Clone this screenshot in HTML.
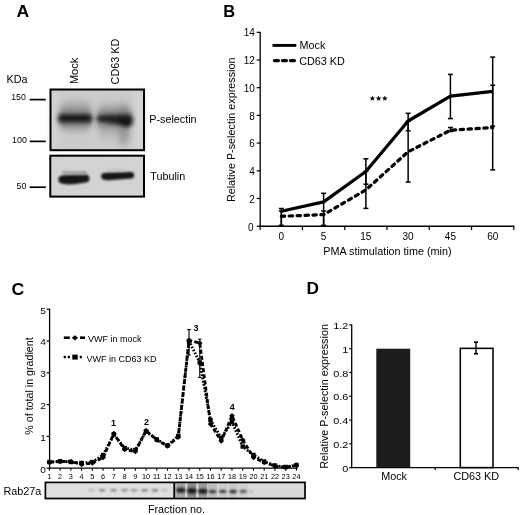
<!DOCTYPE html>
<html><head><meta charset="utf-8"><style>
html,body{margin:0;padding:0;background:#fff;width:520px;height:515px;overflow:hidden}
svg{display:block;filter:blur(0.35px)}
text{font-family:"Liberation Sans", sans-serif;fill:#000}
</style></head><body>
<svg width="520" height="515" viewBox="0 0 520 515">
<defs>
<filter id="bl08" x="-50%" y="-50%" width="200%" height="200%"><feGaussianBlur stdDeviation="0.7"/></filter>
<filter id="bl12" x="-50%" y="-50%" width="200%" height="200%"><feGaussianBlur stdDeviation="1.2"/></filter>
<filter id="bl1" x="-50%" y="-50%" width="200%" height="200%"><feGaussianBlur stdDeviation="1.0"/></filter>
<filter id="bl2" x="-50%" y="-50%" width="200%" height="200%"><feGaussianBlur stdDeviation="2.0"/></filter>
<filter id="bl4" x="-50%" y="-50%" width="200%" height="200%"><feGaussianBlur stdDeviation="3.5"/></filter>
<linearGradient id="g1" x1="0" y1="0" x2="1" y2="0">
<stop offset="0" stop-color="#d8d8d8" stop-opacity="0.6"/>
<stop offset="0.5" stop-color="#c8c8c8" stop-opacity="0.3"/>
<stop offset="1" stop-color="#d5d5d5" stop-opacity="0.5"/>
</linearGradient>
</defs>
<text transform="translate(16.5,16.9) scale(1.07,1)" font-size="16.5" font-weight="bold">A</text>
<text transform="translate(77.70,84.10) rotate(-90)" font-size="11" text-anchor="start" >Mock</text>
<text transform="translate(118.70,84.40) rotate(-90)" font-size="10.8" text-anchor="start" >CD63 KD</text>
<text x="6.50" y="82.80" font-size="10.8" text-anchor="start" font-weight="normal" >KDa</text>
<text transform="translate(11.2,100.3) scale(0.92,1)" font-size="9.5">150</text>
<text transform="translate(12.0,142.8) scale(0.94,1)" font-size="9.5">100</text>
<text transform="translate(16.6,188.8) scale(0.94,1)" font-size="9.5">50</text>
<line x1="29.70" y1="99.60" x2="45.80" y2="99.60" stroke="#000" stroke-width="1.7" />
<line x1="29.70" y1="141.40" x2="45.80" y2="141.40" stroke="#000" stroke-width="1.7" />
<line x1="29.70" y1="187.20" x2="45.80" y2="187.20" stroke="#000" stroke-width="1.7" />
<g>
<rect x="50.5" y="89.5" width="93.5" height="60.7" fill="#cbcbcb"/>
<g filter="url(#bl4)">
 <rect x="52" y="92" width="5" height="56" fill="#d8d8d8"/>
 <rect x="133" y="92" width="10" height="56" fill="#d6d6d6"/>
 <rect x="92" y="92" width="3.5" height="56" fill="#d2d2d2"/>
 <rect x="59" y="102" width="33" height="29" rx="6" fill="#959595" opacity="0.7"/>
 <rect x="97" y="104" width="35" height="27" rx="6" fill="#959595" opacity="0.65"/>
 <ellipse cx="124" cy="134" rx="6" ry="11" fill="#888" opacity="0.75"/>
 <ellipse cx="108" cy="133" rx="10" ry="6" fill="#aaa" opacity="0.6"/>
 <ellipse cx="124" cy="109" rx="6" ry="6" fill="#8a8a8a" opacity="0.5"/>
</g>
<g filter="url(#bl2)">
 <rect x="59" y="108" width="32.5" height="20" rx="5" fill="#777" opacity="0.45"/>
 <rect x="97" y="108.5" width="35" height="20" rx="5" fill="#777" opacity="0.45"/>
 <rect x="58.0" y="113.6" width="34.3" height="9.6" rx="4" fill="#1e1e1e"/>
 <path d="M96.6,118.6 C96.6,115 98.6,114.6 103,114.5 L126.5,113.6 C131.5,113.6 133,116 133,119.5 C133,124.5 130.5,127.8 125.5,127.3 L118,125.2 L103,122.8 C98.6,122.7 96.6,122.2 96.6,118.6 Z" fill="#222"/>
 <path d="M116,121 C120,119 130,119 132,121 C132,125 129,127.5 125,127 Z" fill="#111"/>
</g>
<rect x="50.5" y="89.5" width="93.5" height="60.7" fill="none" stroke="#000" stroke-width="2"/>
</g>
<g>
<rect x="50.3" y="155.7" width="93.7" height="40.9" fill="#d3d3d3"/>
<g filter="url(#bl12)">
 <path d="M58.4,179.6 C58.4,175.9 61,175.2 68,175.1 L86.5,174.8 C90.2,174.8 90.4,181.4 87.2,182.2 L74,184.3 C62,184.9 58.4,183.4 58.4,179.6 Z" fill="#141414"/>
 <rect x="62" y="171.6" width="25" height="1.8" rx="0.9" fill="#777" opacity="0.8"/>
 <path d="M101.1,176.2 C101.1,172.9 104,172.6 112,172.5 L131.5,172.0 C135,172.0 135.2,178.2 131.5,178.6 L112,180.1 C104,180.6 101.1,179.4 101.1,176.2 Z" fill="#181818"/>
 <ellipse cx="116" cy="169.6" rx="11" ry="0.9" fill="#aaa" opacity="0.6"/>
</g>
<rect x="50.3" y="155.7" width="93.7" height="40.9" fill="none" stroke="#000" stroke-width="2"/>
</g>
<text x="149.20" y="122.80" font-size="10.8" text-anchor="start" font-weight="normal" >P-selectin</text>
<text x="150.20" y="179.60" font-size="10.8" text-anchor="start" font-weight="normal" >Tubulin</text>
<text x="223.30" y="16.80" font-size="16.5" text-anchor="start" font-weight="bold" >B</text>
<line x1="260.20" y1="32.00" x2="260.20" y2="226.80" stroke="#000" stroke-width="1.3" />
<line x1="256.70" y1="226.20" x2="260.20" y2="226.20" stroke="#000" stroke-width="1.2" />
<text x="253.60" y="231.10" font-size="10" text-anchor="end" font-weight="normal" >0</text>
<line x1="256.70" y1="198.50" x2="260.20" y2="198.50" stroke="#000" stroke-width="1.2" />
<text x="254.90" y="202.60" font-size="10" text-anchor="end" font-weight="normal" >2</text>
<line x1="256.70" y1="170.80" x2="260.20" y2="170.80" stroke="#000" stroke-width="1.2" />
<text x="254.90" y="174.90" font-size="10" text-anchor="end" font-weight="normal" >4</text>
<line x1="256.70" y1="143.10" x2="260.20" y2="143.10" stroke="#000" stroke-width="1.2" />
<text x="254.90" y="147.20" font-size="10" text-anchor="end" font-weight="normal" >6</text>
<line x1="256.70" y1="115.40" x2="260.20" y2="115.40" stroke="#000" stroke-width="1.2" />
<text x="254.90" y="119.50" font-size="10" text-anchor="end" font-weight="normal" >8</text>
<line x1="256.70" y1="87.70" x2="260.20" y2="87.70" stroke="#000" stroke-width="1.2" />
<text x="254.90" y="91.80" font-size="10" text-anchor="end" font-weight="normal" >10</text>
<line x1="256.70" y1="60.00" x2="260.20" y2="60.00" stroke="#000" stroke-width="1.2" />
<text x="254.90" y="64.10" font-size="10" text-anchor="end" font-weight="normal" >12</text>
<line x1="256.70" y1="32.30" x2="260.20" y2="32.30" stroke="#000" stroke-width="1.2" />
<text x="254.90" y="36.40" font-size="10" text-anchor="end" font-weight="normal" >14</text>
<line x1="259.60" y1="226.20" x2="514.42" y2="226.20" stroke="#000" stroke-width="1.4" />
<line x1="260.20" y1="226.20" x2="260.20" y2="230.00" stroke="#000" stroke-width="1.2" />
<line x1="302.47" y1="226.20" x2="302.47" y2="230.00" stroke="#000" stroke-width="1.2" />
<line x1="344.74" y1="226.20" x2="344.74" y2="230.00" stroke="#000" stroke-width="1.2" />
<line x1="387.01" y1="226.20" x2="387.01" y2="230.00" stroke="#000" stroke-width="1.2" />
<line x1="429.28" y1="226.20" x2="429.28" y2="230.00" stroke="#000" stroke-width="1.2" />
<line x1="471.55" y1="226.20" x2="471.55" y2="230.00" stroke="#000" stroke-width="1.2" />
<line x1="513.82" y1="226.20" x2="513.82" y2="230.00" stroke="#000" stroke-width="1.2" />
<text x="281.33" y="239.90" font-size="10" text-anchor="middle" font-weight="normal" >0</text>
<text x="323.61" y="239.90" font-size="10" text-anchor="middle" font-weight="normal" >5</text>
<text x="365.88" y="239.90" font-size="10" text-anchor="middle" font-weight="normal" >15</text>
<text x="408.14" y="239.90" font-size="10" text-anchor="middle" font-weight="normal" >30</text>
<text x="450.41" y="239.90" font-size="10" text-anchor="middle" font-weight="normal" >45</text>
<text x="492.69" y="239.90" font-size="10" text-anchor="middle" font-weight="normal" >60</text>
<text x="387.40" y="255.00" font-size="10.8" text-anchor="middle" font-weight="normal" >PMA stimulation time (min)</text>
<text transform="translate(235.10,129.80) rotate(-90)" font-size="10.8" text-anchor="middle" >Relative P-selectin expression</text>
<line x1="272.50" y1="45.40" x2="296.30" y2="45.40" stroke="#000" stroke-width="2.9" />
<line x1="274.40" y1="60.60" x2="294.60" y2="60.60" stroke="#000" stroke-width="3.1" stroke-dasharray="4.1 3.9" stroke-linecap="round"/>
<text x="299.60" y="48.60" font-size="10.8" text-anchor="start" font-weight="normal" >Mock</text>
<text x="299.20" y="64.70" font-size="10.8" text-anchor="start" font-weight="normal" >CD63 KD</text>
<line x1="281.33" y1="208.50" x2="281.33" y2="225.50" stroke="#000" stroke-width="1.5" />
<line x1="278.83" y1="208.50" x2="283.83" y2="208.50" stroke="#000" stroke-width="1.5" />
<line x1="278.83" y1="225.50" x2="283.83" y2="225.50" stroke="#000" stroke-width="1.5" />
<line x1="281.33" y1="211.00" x2="281.33" y2="225.50" stroke="#000" stroke-width="1.5" />
<line x1="278.83" y1="211.00" x2="283.83" y2="211.00" stroke="#000" stroke-width="1.5" />
<line x1="278.83" y1="225.50" x2="283.83" y2="225.50" stroke="#000" stroke-width="1.5" />
<line x1="323.61" y1="193.30" x2="323.61" y2="225.50" stroke="#000" stroke-width="1.5" />
<line x1="321.11" y1="193.30" x2="326.11" y2="193.30" stroke="#000" stroke-width="1.5" />
<line x1="321.11" y1="225.50" x2="326.11" y2="225.50" stroke="#000" stroke-width="1.5" />
<line x1="323.61" y1="211.00" x2="323.61" y2="225.50" stroke="#000" stroke-width="1.5" />
<line x1="321.11" y1="211.00" x2="326.11" y2="211.00" stroke="#000" stroke-width="1.5" />
<line x1="321.11" y1="225.50" x2="326.11" y2="225.50" stroke="#000" stroke-width="1.5" />
<line x1="365.88" y1="158.80" x2="365.88" y2="184.20" stroke="#000" stroke-width="1.5" />
<line x1="363.38" y1="158.80" x2="368.38" y2="158.80" stroke="#000" stroke-width="1.5" />
<line x1="363.38" y1="184.20" x2="368.38" y2="184.20" stroke="#000" stroke-width="1.5" />
<line x1="365.88" y1="171.50" x2="365.88" y2="208.40" stroke="#000" stroke-width="1.5" />
<line x1="363.38" y1="171.50" x2="368.38" y2="171.50" stroke="#000" stroke-width="1.5" />
<line x1="363.38" y1="208.40" x2="368.38" y2="208.40" stroke="#000" stroke-width="1.5" />
<line x1="408.14" y1="113.30" x2="408.14" y2="130.80" stroke="#000" stroke-width="1.5" />
<line x1="405.64" y1="113.30" x2="410.64" y2="113.30" stroke="#000" stroke-width="1.5" />
<line x1="405.64" y1="130.80" x2="410.64" y2="130.80" stroke="#000" stroke-width="1.5" />
<line x1="408.14" y1="121.30" x2="408.14" y2="182.10" stroke="#000" stroke-width="1.5" />
<line x1="405.64" y1="121.30" x2="410.64" y2="121.30" stroke="#000" stroke-width="1.5" />
<line x1="405.64" y1="182.10" x2="410.64" y2="182.10" stroke="#000" stroke-width="1.5" />
<line x1="450.41" y1="74.40" x2="450.41" y2="118.60" stroke="#000" stroke-width="1.5" />
<line x1="447.91" y1="74.40" x2="452.91" y2="74.40" stroke="#000" stroke-width="1.5" />
<line x1="447.91" y1="118.60" x2="452.91" y2="118.60" stroke="#000" stroke-width="1.5" />
<line x1="450.41" y1="127.50" x2="450.41" y2="131.50" stroke="#000" stroke-width="1.5" />
<line x1="447.91" y1="127.50" x2="452.91" y2="127.50" stroke="#000" stroke-width="1.5" />
<line x1="447.91" y1="131.50" x2="452.91" y2="131.50" stroke="#000" stroke-width="1.5" />
<line x1="492.69" y1="57.10" x2="492.69" y2="126.20" stroke="#000" stroke-width="1.5" />
<line x1="490.19" y1="57.10" x2="495.19" y2="57.10" stroke="#000" stroke-width="1.5" />
<line x1="490.19" y1="126.20" x2="495.19" y2="126.20" stroke="#000" stroke-width="1.5" />
<line x1="492.69" y1="85.30" x2="492.69" y2="169.90" stroke="#000" stroke-width="1.5" />
<line x1="490.19" y1="85.30" x2="495.19" y2="85.30" stroke="#000" stroke-width="1.5" />
<line x1="490.19" y1="169.90" x2="495.19" y2="169.90" stroke="#000" stroke-width="1.5" />
<polyline points="281.33,211.30 323.61,201.90 365.88,171.50 408.14,121.00 450.41,96.10 492.69,91.30" fill="none" stroke="#000" stroke-width="3.2" stroke-linejoin="round"/>
<polyline points="281.33,216.30 323.61,214.60 365.88,189.90 408.14,151.70 450.41,130.30 492.69,127.60" fill="none" stroke="#000" stroke-width="3.2" stroke-dasharray="3.4 4.5" stroke-linecap="round" stroke-linejoin="round"/>
<polygon points="372.40,95.60 373.17,97.44 375.16,97.60 373.64,98.90 374.10,100.85 372.40,99.81 370.70,100.85 371.16,98.90 369.64,97.60 371.63,97.44" fill="#000"/>
<polygon points="378.60,95.60 379.37,97.44 381.36,97.60 379.84,98.90 380.30,100.85 378.60,99.81 376.90,100.85 377.36,98.90 375.84,97.60 377.83,97.44" fill="#000"/>
<polygon points="384.80,95.60 385.57,97.44 387.56,97.60 386.04,98.90 386.50,100.85 384.80,99.81 383.10,100.85 383.56,98.90 382.04,97.60 384.03,97.44" fill="#000"/>
<text transform="translate(11.4,294.5) scale(1.07,1)" font-size="16.5" font-weight="bold">C</text>
<line x1="49.60" y1="308.70" x2="49.60" y2="468.80" stroke="#000" stroke-width="1.3" />
<line x1="46.60" y1="468.20" x2="49.60" y2="468.20" stroke="#000" stroke-width="1.2" />
<text transform="translate(45.90,472.60) scale(1.08,1)" font-size="9.4" text-anchor="end">0</text>
<line x1="46.60" y1="436.40" x2="49.60" y2="436.40" stroke="#000" stroke-width="1.2" />
<text transform="translate(45.90,440.80) scale(1.08,1)" font-size="9.4" text-anchor="end">1</text>
<line x1="46.60" y1="404.60" x2="49.60" y2="404.60" stroke="#000" stroke-width="1.2" />
<text transform="translate(45.90,409.00) scale(1.08,1)" font-size="9.4" text-anchor="end">2</text>
<line x1="46.60" y1="372.80" x2="49.60" y2="372.80" stroke="#000" stroke-width="1.2" />
<text transform="translate(45.90,377.20) scale(1.08,1)" font-size="9.4" text-anchor="end">3</text>
<line x1="46.60" y1="341.00" x2="49.60" y2="341.00" stroke="#000" stroke-width="1.2" />
<text transform="translate(45.90,345.40) scale(1.08,1)" font-size="9.4" text-anchor="end">4</text>
<line x1="46.60" y1="309.20" x2="49.60" y2="309.20" stroke="#000" stroke-width="1.2" />
<text transform="translate(45.90,313.60) scale(1.08,1)" font-size="9.4" text-anchor="end">5</text>
<line x1="49.00" y1="468.20" x2="297.80" y2="468.20" stroke="#000" stroke-width="1.3" />
<line x1="49.40" y1="468.20" x2="49.40" y2="470.70" stroke="#000" stroke-width="1.1" />
<text x="49.40" y="478.70" font-size="7.3" text-anchor="middle" font-weight="normal" >1</text>
<line x1="60.14" y1="468.20" x2="60.14" y2="470.70" stroke="#000" stroke-width="1.1" />
<text x="60.14" y="478.70" font-size="7.3" text-anchor="middle" font-weight="normal" >2</text>
<line x1="70.88" y1="468.20" x2="70.88" y2="470.70" stroke="#000" stroke-width="1.1" />
<text x="70.88" y="478.70" font-size="7.3" text-anchor="middle" font-weight="normal" >3</text>
<line x1="81.62" y1="468.20" x2="81.62" y2="470.70" stroke="#000" stroke-width="1.1" />
<text x="81.62" y="478.70" font-size="7.3" text-anchor="middle" font-weight="normal" >4</text>
<line x1="92.36" y1="468.20" x2="92.36" y2="470.70" stroke="#000" stroke-width="1.1" />
<text x="92.36" y="478.70" font-size="7.3" text-anchor="middle" font-weight="normal" >5</text>
<line x1="103.10" y1="468.20" x2="103.10" y2="470.70" stroke="#000" stroke-width="1.1" />
<text x="103.10" y="478.70" font-size="7.3" text-anchor="middle" font-weight="normal" >6</text>
<line x1="113.84" y1="468.20" x2="113.84" y2="470.70" stroke="#000" stroke-width="1.1" />
<text x="113.84" y="478.70" font-size="7.3" text-anchor="middle" font-weight="normal" >7</text>
<line x1="124.58" y1="468.20" x2="124.58" y2="470.70" stroke="#000" stroke-width="1.1" />
<text x="124.58" y="478.70" font-size="7.3" text-anchor="middle" font-weight="normal" >8</text>
<line x1="135.32" y1="468.20" x2="135.32" y2="470.70" stroke="#000" stroke-width="1.1" />
<text x="135.32" y="478.70" font-size="7.3" text-anchor="middle" font-weight="normal" >9</text>
<line x1="146.06" y1="468.20" x2="146.06" y2="470.70" stroke="#000" stroke-width="1.1" />
<text x="146.06" y="478.70" font-size="7.3" text-anchor="middle" font-weight="normal" >10</text>
<line x1="156.80" y1="468.20" x2="156.80" y2="470.70" stroke="#000" stroke-width="1.1" />
<text x="156.80" y="478.70" font-size="7.3" text-anchor="middle" font-weight="normal" >11</text>
<line x1="167.54" y1="468.20" x2="167.54" y2="470.70" stroke="#000" stroke-width="1.1" />
<text x="167.54" y="478.70" font-size="7.3" text-anchor="middle" font-weight="normal" >12</text>
<line x1="178.28" y1="468.20" x2="178.28" y2="470.70" stroke="#000" stroke-width="1.1" />
<text x="178.28" y="478.70" font-size="7.3" text-anchor="middle" font-weight="normal" >13</text>
<line x1="189.02" y1="468.20" x2="189.02" y2="470.70" stroke="#000" stroke-width="1.1" />
<text x="189.02" y="478.70" font-size="7.3" text-anchor="middle" font-weight="normal" >14</text>
<line x1="199.76" y1="468.20" x2="199.76" y2="470.70" stroke="#000" stroke-width="1.1" />
<text x="199.76" y="478.70" font-size="7.3" text-anchor="middle" font-weight="normal" >15</text>
<line x1="210.50" y1="468.20" x2="210.50" y2="470.70" stroke="#000" stroke-width="1.1" />
<text x="210.50" y="478.70" font-size="7.3" text-anchor="middle" font-weight="normal" >16</text>
<line x1="221.24" y1="468.20" x2="221.24" y2="470.70" stroke="#000" stroke-width="1.1" />
<text x="221.24" y="478.70" font-size="7.3" text-anchor="middle" font-weight="normal" >17</text>
<line x1="231.98" y1="468.20" x2="231.98" y2="470.70" stroke="#000" stroke-width="1.1" />
<text x="231.98" y="478.70" font-size="7.3" text-anchor="middle" font-weight="normal" >18</text>
<line x1="242.72" y1="468.20" x2="242.72" y2="470.70" stroke="#000" stroke-width="1.1" />
<text x="242.72" y="478.70" font-size="7.3" text-anchor="middle" font-weight="normal" >19</text>
<line x1="253.46" y1="468.20" x2="253.46" y2="470.70" stroke="#000" stroke-width="1.1" />
<text x="253.46" y="478.70" font-size="7.3" text-anchor="middle" font-weight="normal" >20</text>
<line x1="264.20" y1="468.20" x2="264.20" y2="470.70" stroke="#000" stroke-width="1.1" />
<text x="264.20" y="478.70" font-size="7.3" text-anchor="middle" font-weight="normal" >21</text>
<line x1="274.94" y1="468.20" x2="274.94" y2="470.70" stroke="#000" stroke-width="1.1" />
<text x="274.94" y="478.70" font-size="7.3" text-anchor="middle" font-weight="normal" >22</text>
<line x1="285.68" y1="468.20" x2="285.68" y2="470.70" stroke="#000" stroke-width="1.1" />
<text x="285.68" y="478.70" font-size="7.3" text-anchor="middle" font-weight="normal" >23</text>
<line x1="296.42" y1="468.20" x2="296.42" y2="470.70" stroke="#000" stroke-width="1.1" />
<text x="296.42" y="478.70" font-size="7.3" text-anchor="middle" font-weight="normal" >24</text>
<text transform="translate(33.40,386.00) rotate(-90)" font-size="10.7" text-anchor="middle" >% of total in gradient</text>
<polyline points="49.40,462.30 60.14,461.50 70.88,461.50 81.62,464.30 92.36,463.00 103.10,457.50 113.84,433.50 124.58,449.50 135.32,451.50 146.06,430.50 156.80,440.00 167.54,446.00 178.28,437.00 189.02,340.30 199.76,343.00 210.50,424.00 221.24,441.00 231.98,415.80 242.72,440.00 253.46,457.30 264.20,462.40 274.94,466.00 285.68,467.50 296.42,465.40" fill="none" stroke="#000" stroke-width="2.8" stroke-dasharray="4 2.2" stroke-linejoin="round"/>
<polyline points="49.40,462.00 60.14,461.20 70.88,462.00 81.62,463.00 92.36,462.00 103.10,455.00 113.84,434.50 124.58,448.00 135.32,450.00 146.06,431.50 156.80,439.50 167.54,445.50 178.28,436.00 189.02,341.00 199.76,362.50 210.50,420.00 221.24,438.00 231.98,422.00 242.72,446.50 253.46,455.00 264.20,461.50 274.94,465.50 285.68,467.00 296.42,465.00" fill="none" stroke="#000" stroke-width="2.8" stroke-dasharray="1.7 1.6" stroke-linejoin="round"/>
<rect x="47.40" y="460.30" width="4" height="4" fill="#000" transform="rotate(45 49.40 462.30)"/>
<rect x="58.14" y="459.50" width="4" height="4" fill="#000" transform="rotate(45 60.14 461.50)"/>
<rect x="68.88" y="459.50" width="4" height="4" fill="#000" transform="rotate(45 70.88 461.50)"/>
<rect x="79.62" y="462.30" width="4" height="4" fill="#000" transform="rotate(45 81.62 464.30)"/>
<rect x="90.36" y="461.00" width="4" height="4" fill="#000" transform="rotate(45 92.36 463.00)"/>
<rect x="101.10" y="455.50" width="4" height="4" fill="#000" transform="rotate(45 103.10 457.50)"/>
<rect x="111.84" y="431.50" width="4" height="4" fill="#000" transform="rotate(45 113.84 433.50)"/>
<rect x="122.58" y="447.50" width="4" height="4" fill="#000" transform="rotate(45 124.58 449.50)"/>
<rect x="133.32" y="449.50" width="4" height="4" fill="#000" transform="rotate(45 135.32 451.50)"/>
<rect x="144.06" y="428.50" width="4" height="4" fill="#000" transform="rotate(45 146.06 430.50)"/>
<rect x="154.80" y="438.00" width="4" height="4" fill="#000" transform="rotate(45 156.80 440.00)"/>
<rect x="165.54" y="444.00" width="4" height="4" fill="#000" transform="rotate(45 167.54 446.00)"/>
<rect x="176.28" y="435.00" width="4" height="4" fill="#000" transform="rotate(45 178.28 437.00)"/>
<rect x="187.02" y="338.30" width="4" height="4" fill="#000" transform="rotate(45 189.02 340.30)"/>
<rect x="197.76" y="341.00" width="4" height="4" fill="#000" transform="rotate(45 199.76 343.00)"/>
<rect x="208.50" y="422.00" width="4" height="4" fill="#000" transform="rotate(45 210.50 424.00)"/>
<rect x="219.24" y="439.00" width="4" height="4" fill="#000" transform="rotate(45 221.24 441.00)"/>
<rect x="229.98" y="413.80" width="4" height="4" fill="#000" transform="rotate(45 231.98 415.80)"/>
<rect x="240.72" y="438.00" width="4" height="4" fill="#000" transform="rotate(45 242.72 440.00)"/>
<rect x="251.46" y="455.30" width="4" height="4" fill="#000" transform="rotate(45 253.46 457.30)"/>
<rect x="262.20" y="460.40" width="4" height="4" fill="#000" transform="rotate(45 264.20 462.40)"/>
<rect x="272.94" y="464.00" width="4" height="4" fill="#000" transform="rotate(45 274.94 466.00)"/>
<rect x="283.68" y="465.50" width="4" height="4" fill="#000" transform="rotate(45 285.68 467.50)"/>
<rect x="294.42" y="463.40" width="4" height="4" fill="#000" transform="rotate(45 296.42 465.40)"/>
<rect x="47.20" y="459.80" width="4.4" height="4.4" fill="#000"/>
<rect x="57.94" y="459.00" width="4.4" height="4.4" fill="#000"/>
<rect x="68.68" y="459.80" width="4.4" height="4.4" fill="#000"/>
<rect x="79.42" y="460.80" width="4.4" height="4.4" fill="#000"/>
<rect x="90.16" y="459.80" width="4.4" height="4.4" fill="#000"/>
<rect x="100.90" y="452.80" width="4.4" height="4.4" fill="#000"/>
<rect x="111.64" y="432.30" width="4.4" height="4.4" fill="#000"/>
<rect x="122.38" y="445.80" width="4.4" height="4.4" fill="#000"/>
<rect x="133.12" y="447.80" width="4.4" height="4.4" fill="#000"/>
<rect x="143.86" y="429.30" width="4.4" height="4.4" fill="#000"/>
<rect x="154.60" y="437.30" width="4.4" height="4.4" fill="#000"/>
<rect x="165.34" y="443.30" width="4.4" height="4.4" fill="#000"/>
<rect x="176.08" y="433.80" width="4.4" height="4.4" fill="#000"/>
<rect x="186.82" y="338.80" width="4.4" height="4.4" fill="#000"/>
<rect x="197.56" y="360.30" width="4.4" height="4.4" fill="#000"/>
<rect x="208.30" y="417.80" width="4.4" height="4.4" fill="#000"/>
<rect x="219.04" y="435.80" width="4.4" height="4.4" fill="#000"/>
<rect x="229.78" y="419.80" width="4.4" height="4.4" fill="#000"/>
<rect x="240.52" y="444.30" width="4.4" height="4.4" fill="#000"/>
<rect x="251.26" y="452.80" width="4.4" height="4.4" fill="#000"/>
<rect x="262.00" y="459.30" width="4.4" height="4.4" fill="#000"/>
<rect x="272.74" y="463.30" width="4.4" height="4.4" fill="#000"/>
<rect x="283.48" y="464.80" width="4.4" height="4.4" fill="#000"/>
<rect x="294.22" y="462.80" width="4.4" height="4.4" fill="#000"/>
<line x1="189.02" y1="329.60" x2="189.02" y2="355.00" stroke="#000" stroke-width="1.1" />
<line x1="187.22" y1="329.60" x2="190.82" y2="329.60" stroke="#000" stroke-width="1.1" />
<line x1="187.22" y1="355.00" x2="190.82" y2="355.00" stroke="#000" stroke-width="1.1" />
<line x1="199.76" y1="339.20" x2="199.76" y2="377.50" stroke="#000" stroke-width="1.1" />
<line x1="197.96" y1="339.20" x2="201.56" y2="339.20" stroke="#000" stroke-width="1.1" />
<line x1="197.96" y1="377.50" x2="201.56" y2="377.50" stroke="#000" stroke-width="1.1" />
<text x="113.60" y="426.20" font-size="9" text-anchor="middle" font-weight="bold" >1</text>
<text x="146.40" y="424.90" font-size="9" text-anchor="middle" font-weight="bold" >2</text>
<text x="196.10" y="331.00" font-size="9" text-anchor="middle" font-weight="bold" >3</text>
<text x="232.20" y="410.30" font-size="9" text-anchor="middle" font-weight="bold" >4</text>
<line x1="63.80" y1="337.70" x2="69.80" y2="337.70" stroke="#000" stroke-width="2.6" />
<line x1="80.00" y1="337.70" x2="85.00" y2="337.70" stroke="#000" stroke-width="2.6" />
<path d="M71.8,337.8 L74.9,335.2 L78.0,337.8 L74.9,340.4 Z" fill="#000"/>
<text x="87.90" y="341.90" font-size="9.0" text-anchor="start" font-weight="normal" >VWF in mock</text>
<circle cx="64.8" cy="357.1" r="1.3" fill="#000"/>
<circle cx="68.8" cy="357.1" r="1.3" fill="#000"/>
<circle cx="80.8" cy="357.1" r="1.3" fill="#000"/>
<rect x="72.3" y="354.6" width="5.4" height="5.0" fill="#000"/>
<text x="86.50" y="361.50" font-size="9.0" text-anchor="start" font-weight="normal" >VWF in CD63 KD</text>
<g>
<rect x="45.4" y="482.4" width="128.4" height="15.9" fill="#dfdfdf"/>
<rect x="173.8" y="482.4" width="130.7" height="15.9" fill="#d9d9d9"/>
<g filter="url(#bl08)">

<rect x="176.40" y="483.3" width="8.8" height="14.2" fill="#a2a2a2"/>
<rect x="187.40" y="483.3" width="8.8" height="14.2" fill="#8c8c8c"/>
<rect x="198.40" y="483.3" width="8.8" height="14.2" fill="#9c9c9c"/>
<rect x="208.20" y="483.3" width="8.8" height="14.2" fill="#bdbdbd"/>
<rect x="218.40" y="483.3" width="8.8" height="14.2" fill="#cacaca"/>
<rect x="228.70" y="483.3" width="8.8" height="14.2" fill="#c8c8c8"/>
<rect x="238.80" y="483.3" width="8.8" height="14.2" fill="#cfcfcf"/>
</g><g filter="url(#bl1)">
<ellipse cx="91.40" cy="490.3" rx="3.3" ry="1.2" fill="#222" opacity="0.22"/>
<ellipse cx="102.10" cy="490.3" rx="3.3" ry="1.2" fill="#222" opacity="0.5"/>
<ellipse cx="113.40" cy="490.3" rx="3.3" ry="1.2" fill="#222" opacity="0.45"/>
<ellipse cx="124.60" cy="490.3" rx="3.3" ry="1.2" fill="#222" opacity="0.45"/>
<ellipse cx="134.10" cy="490.3" rx="3.3" ry="1.2" fill="#222" opacity="0.4"/>
<ellipse cx="144.50" cy="490.3" rx="3.3" ry="1.2" fill="#222" opacity="0.5"/>
<ellipse cx="154.90" cy="490.3" rx="3.3" ry="1.2" fill="#222" opacity="0.55"/>
<ellipse cx="164.40" cy="490.3" rx="3.3" ry="1.2" fill="#222" opacity="0.18"/>
<ellipse cx="180.80" cy="490.2" rx="4.6" ry="2.6" fill="#1a1a1a" opacity="0.9"/>
<ellipse cx="191.80" cy="490.8" rx="4.8" ry="2.9" fill="#1a1a1a" opacity="1.0"/>
<ellipse cx="202.80" cy="491.3" rx="4.6" ry="2.7" fill="#1a1a1a" opacity="0.95"/>
<ellipse cx="212.60" cy="491.6" rx="3.7" ry="1.8" fill="#1a1a1a" opacity="0.8"/>
<ellipse cx="222.80" cy="491.4" rx="3.7" ry="1.7" fill="#1a1a1a" opacity="0.8"/>
<ellipse cx="233.10" cy="491.6" rx="3.7" ry="1.8" fill="#1a1a1a" opacity="0.85"/>
<ellipse cx="243.20" cy="491.3" rx="3.6" ry="1.5" fill="#1a1a1a" opacity="0.7"/>
<ellipse cx="251.00" cy="491.3" rx="2.0" ry="1.0" fill="#1a1a1a" opacity="0.2"/>
</g>
<rect x="45.4" y="482.4" width="259.6" height="16.1" fill="none" stroke="#000" stroke-width="1.7"/>
<line x1="174.3" y1="482" x2="174.3" y2="499" stroke="#000" stroke-width="1.9"/>
</g>
<text x="3.40" y="494.70" font-size="10.8" text-anchor="start" font-weight="normal" >Rab27a</text>
<text x="147.90" y="513.00" font-size="10.8" text-anchor="start" font-weight="normal" >Fraction no.</text>
<text transform="translate(306.5,293.8) scale(1.05,1)" font-size="16.5" font-weight="bold">D</text>
<rect x="376.3" y="348.70" width="33.9" height="118.90" fill="#1c1c1c"/>
<rect x="460.3" y="348.35" width="32.7" height="119.25" fill="#fff" stroke="#000" stroke-width="1.55"/>
<line x1="476.00" y1="342.20" x2="476.00" y2="353.70" stroke="#000" stroke-width="1.4" />
<line x1="474.00" y1="342.20" x2="478.00" y2="342.20" stroke="#000" stroke-width="1.7" />
<line x1="474.00" y1="353.70" x2="478.00" y2="353.70" stroke="#000" stroke-width="1.7" />
<line x1="351.70" y1="324.62" x2="351.70" y2="468.20" stroke="#000" stroke-width="1.3" />
<line x1="349.20" y1="467.60" x2="351.70" y2="467.60" stroke="#000" stroke-width="1.2" />
<text transform="translate(348.30,471.70) scale(1.1,1)" font-size="9.9" text-anchor="end">0</text>
<line x1="349.20" y1="443.82" x2="351.70" y2="443.82" stroke="#000" stroke-width="1.2" />
<text transform="translate(348.30,447.92) scale(1.1,1)" font-size="9.9" text-anchor="end">0.2</text>
<line x1="349.20" y1="420.04" x2="351.70" y2="420.04" stroke="#000" stroke-width="1.2" />
<text transform="translate(348.30,424.14) scale(1.1,1)" font-size="9.9" text-anchor="end">0.4</text>
<line x1="349.20" y1="396.26" x2="351.70" y2="396.26" stroke="#000" stroke-width="1.2" />
<text transform="translate(348.30,400.36) scale(1.1,1)" font-size="9.9" text-anchor="end">0.6</text>
<line x1="349.20" y1="372.48" x2="351.70" y2="372.48" stroke="#000" stroke-width="1.2" />
<text transform="translate(348.30,376.58) scale(1.1,1)" font-size="9.9" text-anchor="end">0.8</text>
<line x1="349.20" y1="348.70" x2="351.70" y2="348.70" stroke="#000" stroke-width="1.2" />
<text transform="translate(348.30,352.80) scale(1.1,1)" font-size="9.9" text-anchor="end">1</text>
<line x1="349.20" y1="324.92" x2="351.70" y2="324.92" stroke="#000" stroke-width="1.2" />
<text transform="translate(348.30,329.02) scale(1.1,1)" font-size="9.9" text-anchor="end">1.2</text>
<line x1="351.10" y1="467.60" x2="518.60" y2="467.60" stroke="#000" stroke-width="1.3" />
<line x1="435.20" y1="467.60" x2="435.20" y2="470.10" stroke="#000" stroke-width="1.2" />
<line x1="518.20" y1="467.60" x2="518.20" y2="470.10" stroke="#000" stroke-width="1.2" />
<text x="394.10" y="479.60" font-size="10.8" text-anchor="middle" font-weight="normal" >Mock</text>
<text x="476.20" y="479.60" font-size="10.8" text-anchor="middle" font-weight="normal" >CD63 KD</text>
<text transform="translate(328.10,396.40) rotate(-90)" font-size="10.8" text-anchor="middle" >Relative P-selectin expression</text>
</svg>
</body></html>
